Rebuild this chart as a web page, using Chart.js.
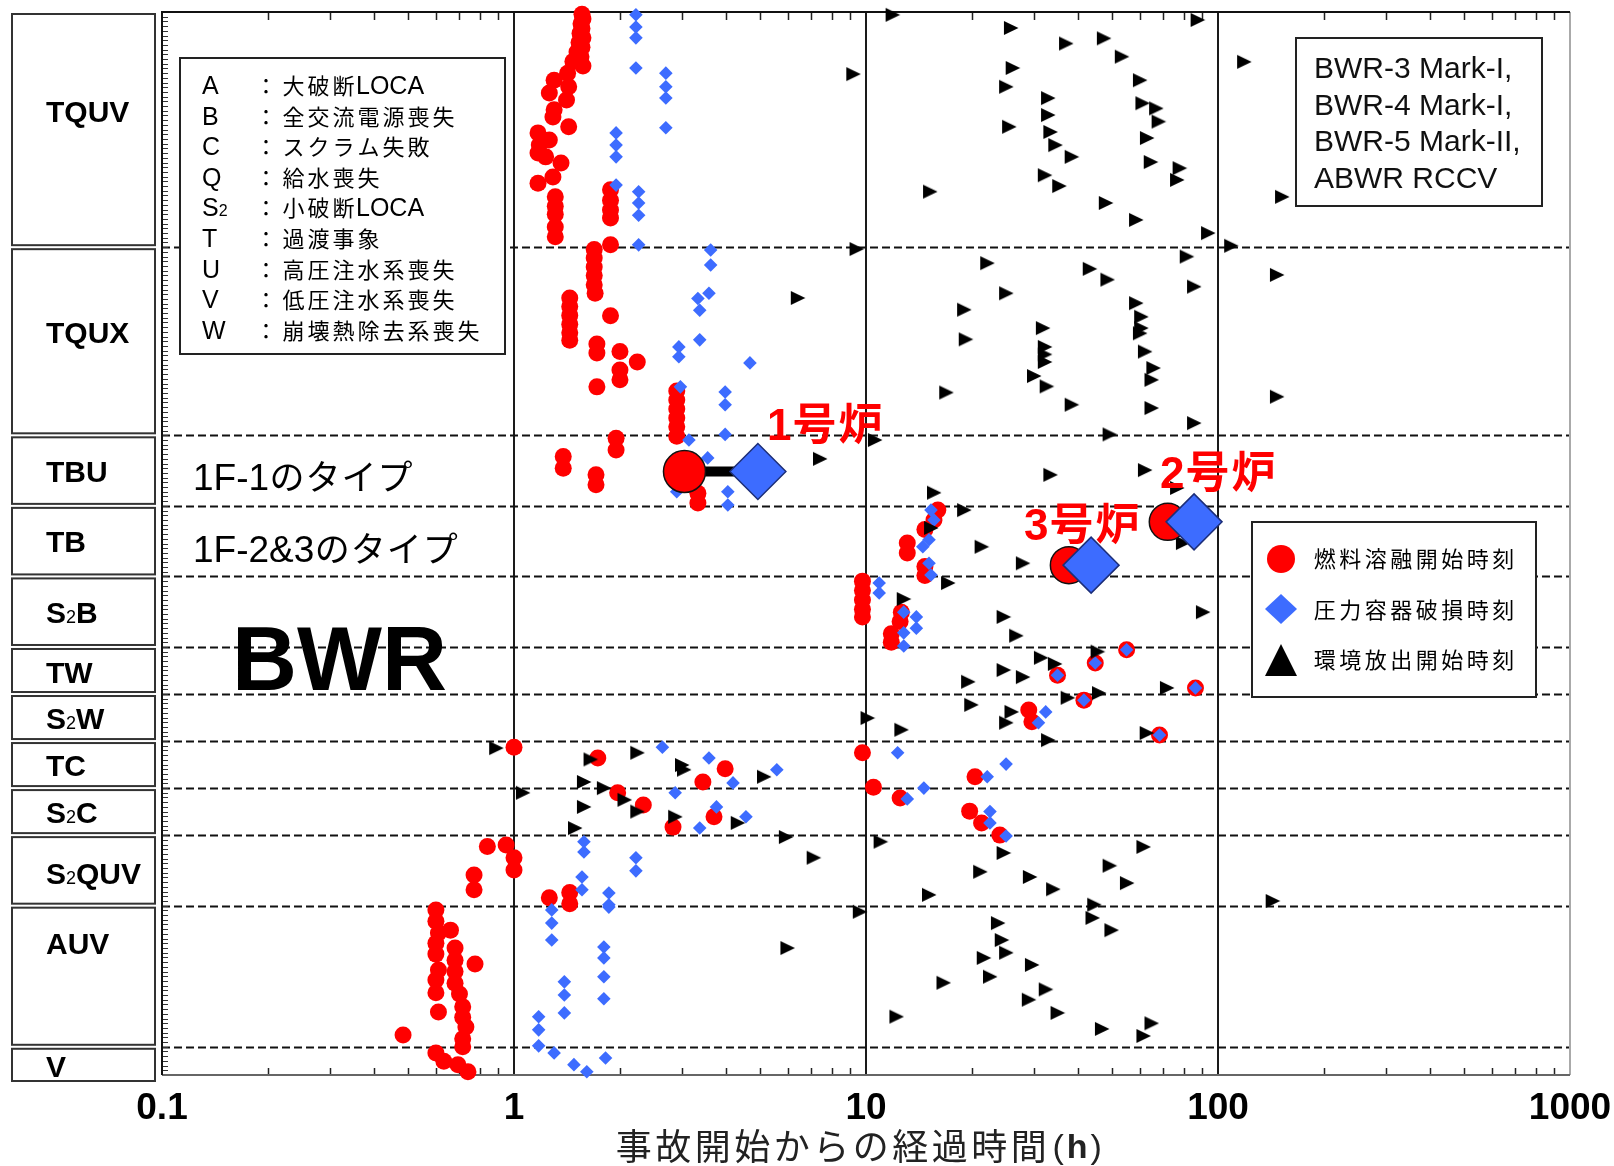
<!DOCTYPE html>
<html>
<head>
<meta charset="utf-8">
<script src="https://cdn.jsdelivr.net/npm/chart.js@4/dist/chart.umd.min.js"></script>
<style>
html, body { margin: 0; padding: 0; background: #fff; }
canvas { display: block; }
</style>
</head>
<body>
<canvas id="chart" width="1614" height="1166"></canvas>
<script>
// rows of the y axis, counted in cases from the top
const rowNames = ['TQUV', 'TQUX', 'TBU', 'TB', 'S2B', 'TW', 'S2W', 'TC', 'S2C', 'S2QUV', 'AUV', 'V'];
const rowEdges = [0, 50, 90, 105, 120, 135, 145, 155, 165, 175, 190, 220, 226];
const rowLabelAt = [21, 68, 97.5, 112.5, 127.5, 140.3, 150, 160, 170, 183, 198, 224];

const xMajor = [0.1, 1, 10, 100, 1000];
const xGridAt = [1, 10, 100];
const xTitle = '事故開始からの経過時間';
const xUnit = 'h';

const abbrevKeys = ['A', 'B', 'C', 'Q', 'S2', 'T', 'U', 'V', 'W'];
const abbrevText = ['大破断LOCA', '全交流電源喪失', 'スクラム失敗', '給水喪失', '小破断LOCA', '過渡事象', '高圧注水系喪失', '低圧注水系喪失', '崩壊熱除去系喪失'];
const plantTypes = ['BWR-3 Mark-I,', 'BWR-4 Mark-I,', 'BWR-5 Mark-II,', 'ABWR RCCV'];
const legendItems = ['燃料溶融開始時刻', '圧力容器破損時刻', '環境放出開始時刻'];

// [hours, case position]
const melt = [
  // TQUV
  [1.56,0.5],[1.57,1.5],[1.55,2.5],[1.56,3.5],[1.54,4.5],[1.57,5.5],[1.53,6.5],[1.56,7.5],[1.51,8.5],[1.55,9.5],[1.47,10.5],[1.57,11.5],
  [1.42,13],[1.30,14.5],[1.43,15.9],[1.26,17.2],[1.41,18.7],[1.30,20.8],[1.29,22.3],[1.43,24.4],[1.17,25.7],[1.26,27.2],[1.18,28.3],
  [1.17,30],[1.23,30.8],[1.36,32.1],[1.29,35.1],[1.17,36.4],[1.31,39.3],[1.31,41.3],[1.31,43],[1.31,45.7],[1.31,47.8],
  [1.88,37.8],[1.88,40],[1.88,42.1],[1.88,43.8],[1.88,49.5],
  // TQUX
  [1.69,50.5],[1.69,52.3],[1.69,54.2],[1.69,56],[1.69,58],[1.70,59.8],[1.44,60.8],[1.44,62.6],[1.44,64.5],[1.44,66.4],[1.44,68.2],[1.44,69.8],
  [1.88,64.6],[1.72,70.6],[1.72,72.5],[2.0,72.2],[2.0,76.1],[2.0,78.2],[2.24,74.4],[1.72,79.7],
  [2.9,80.6],[2.9,82.5],[2.9,84.4],[2.9,86.3],[2.9,88.2],[2.9,90.2],
  // TBU
  [1.38,94.5],[1.38,97],[1.71,98.4],[1.71,100.5],[1.95,90.6],[1.95,93.1],[3.33,102.3],[3.33,104.4],
  // TB
  [16.0,105.9],[15.6,108],[14.7,110],[13.1,112.9],[13.1,115],[14.7,117.9],[14.7,119.8],
  // S2B
  [9.77,121],[9.77,123],[9.77,125],[9.77,127],[9.77,128.6],[12.6,127.6],[12.5,129.6],[11.8,132.2],[11.8,134],
  // TW
  [55,135.6],[44.8,138.4],[35,141],[86.3,143.7],
  // S2W
  [41.6,146.3],[29.0,148.4],[29.6,150.9],[68.2,153.7],
  // TC
  [1.0,156.3],[1.73,158.6],[9.77,157.5],[3.98,160.9],[20.4,162.6],[3.44,163.7],
  // S2C
  [10.5,164.8],[1.97,166],[12.5,167.1],[2.33,168.6],[19.7,169.9],[3.70,171.1],[21.3,172.4],[2.83,173.3],[24.0,175],
  // S2QUV
  [0.95,177.1],[0.84,177.4],[1.0,179.8],[1.0,182.4],[0.77,183.5],[0.77,186.6],[1.44,187.2],[1.26,188.3],[1.44,189.6],
  // AUV
  [0.60,190.9],[0.60,193.3],[0.61,195.8],[0.60,198],[0.60,200.3],[0.61,203.7],[0.60,205.8],[0.60,208.5],[0.61,212.6],
  [0.66,195.2],[0.68,199],[0.68,201.6],[0.68,204],[0.68,206.5],[0.70,208.8],[0.775,202.4],
  [0.715,211.5],[0.715,213.7],[0.73,215.8],[0.715,218.3],[0.715,220],[0.484,217.5],
  // V
  [0.60,221.3],[0.632,223.1],[0.693,223.8],[0.74,225.3]
];

const rpv = [
  // TQUV
  [2.22,0.6],[2.22,3.2],[2.22,5.5],[2.22,11.9],[2.70,13],[2.70,15.9],[2.70,18.3],[2.70,24.6],[1.95,25.7],[1.95,28.3],[1.95,30.8],[1.95,36.8],
  [2.26,38.2],[2.26,40.6],[2.26,43.2],[2.26,49.5],
  // TQUX
  [3.62,50.6],[3.62,53.8],[3.58,59.8],[3.33,60.9],[3.37,63.4],[3.37,69.7],[2.94,71.2],[2.94,73.3],[4.68,74.6],[2.97,79.7],[3.98,80.8],[3.98,83.5],
  // TBU
  [3.98,89.8],[3.14,91],[3.55,94.8],[2.9,102],[4.05,102],[4.05,104.8],
  // TB
  [15.3,105.9],[15.6,108],[15.1,112.2],[14.5,113.7],[15.1,117.2],[15.3,119.7],
  // S2B
  [10.9,121.4],[10.9,123.5],[12.8,127.6],[13.9,128.6],[13.9,131],[12.8,132],[12.8,134.8],
  // TW
  [55,135.6],[44.8,138.4],[35,141],[86.3,143.7],
  // S2W
  [41.6,146.3],[32.4,148.8],[30.9,151.1],[68.2,153.7],
  // TC
  [2.64,156.3],[12.3,157.5],[3.58,158.6],[25.0,159.9],[5.58,161.1],[22.1,162.6],[4.19,163.9],
  // S2C
  [14.6,165],[2.87,166],[13.1,167.3],[3.76,169],[22.5,170],[4.56,171.1],[22.5,172.4],[3.37,173.5],[25,175.2],
  // S2QUV
  [1.58,176.4],[1.58,178.6],[2.22,179.8],[2.22,182.6],[1.56,183.9],[1.56,186.6],[1.86,187.3],[1.86,189.8],
  // AUV
  [1.86,190.3],[1.28,190.9],[1.28,193.7],[1.28,197.3],[1.80,198.8],[1.80,201.1],[1.80,205.1],[1.39,206.2],[1.39,209],[1.80,209.8],
  [1.39,212.8],[1.175,213.6],[1.175,216.4],[1.175,219.8],
  // V
  [1.30,221.3],[1.82,222.4],[1.48,223.8],[1.61,225.3]
];

const release = [
  // TQUV
  [11.9,0.6],[87.5,1.7],[25.8,3.4],[47.4,5.6],[37,6.7],[53.3,9.5],[118.6,10.6],[26.1,11.9],[9.2,13.2],[60,14.5],
  [25.0,15.9],[32.9,18.3],[61,19.4],[66.7,20.5],[32.9,21.9],[67.8,23.3],[25.5,24.4],[33.4,25.5],[62.8,26.8],[34.5,28.3],
  [38.4,30.8],[64.4,31.9],[77.8,33.2],[32.2,34.7],[76.5,35.7],[35.4,37],[15.2,38.2],[152,39.3],[48,40.6],[58.5,44.2],
  [93.7,47],[109,49.7],
  // TQUX
  [9.4,50.4],[81.5,52],[22.1,53.4],[43.2,54.6],[147,55.9],[48.5,56.9],[85.5,58.4],[25.0,59.8],[6.4,60.8],[58.5,61.9],
  [19.0,63.3],[60.5,64.8],[31.8,67.2],[60.5,67.2],[60,68.3],[19.2,69.6],[32.2,71.2],[62,72.2],[32.2,72.8],[32.2,74.4],
  [65.5,75.7],[30,77.4],[64.7,78.2],[32.6,79.6],[16.9,80.9],[147,81.8],[38.4,83.5],[64.7,84.2],[85.5,87.4],[49.2,89.8],
  // TBU
  [10.6,91],[7.4,95],[62,97.4],[33.4,98.4],[76.5,101.2],[15.6,102.2],
  // TB
  [19.0,105.9],[15.3,109.7],[79.5,112.9],[21.3,113.7],[27.9,117.2],
  // S2B
  [17.1,121.4],[12.8,124.8],[90.6,127.6],[24.6,128.6],[26.7,132.6],
  // TW
  [45.5,136],[31.4,137.3],[34.4,138.6],[24.6,139.9],[27.9,141.4],[19.5,142.4],[71.6,143.7],[45.9,144.8],
  // S2W
  [37.4,145.8],[19.9,147.3],[25.9,148.8],[10.1,150.1],[25.0,151.1],[12.6,152.6],[62.7,153.3],[32.9,154.8],
  // TC
  [0.89,156.5],[2.24,157.5],[1.65,158.9],[3.0,160.1],[3.04,161.1],[5.13,162.6],[1.58,163.7],
  // S2C
  [1.80,165],[1.06,166],[2.06,167.5],[1.58,169],[2.24,170],[2.87,171.1],[4.32,172.4],[1.49,173.5],
  // S2QUV
  [5.92,175.4],[11.0,176.4],[61.4,177.5],[24.6,178.8],[7.1,179.8],[49.2,181.5],[21.1,182.8],[29.2,183.9],[55.1,185.2],
  [34.0,186.5],[15.1,187.7],[143,189],[44.5,189.8],
  // AUV
  [9.6,191.3],[44.0,192.6],[23.7,193.7],[49.8,195.2],[24.3,197.3],[5.98,199],[25,200],[21.6,201.1],[29.6,202.6],
  [22.5,205.1],[16.6,206.4],[32.4,207.8],[29.0,210],[35,212.8],[12.2,213.6],[64.7,215],[46.8,216.2],[61.4,217.7]
];

// Fukushima Daiichi units 1-3
const unitNames = ['1号炉', '2号炉', '3号炉'];
const unitMelt = [[3.05,97.7],[72,108.4],[37.7,117.6]];
const unitRpv = [[4.93,97.7],[85.5,108.4],[43.6,117.6]];
const unitMeltSize = [21, 18.5, 18.5];

const RED = '#ff0000';
const BLUE = '#3d6cff';
const JP = '"Noto Sans CJK JP"';
const LAT = '"Liberation Sans", Arial';

function pts(a) {
  return a.map((p) => ({x: p[0], y: p[1]}));
}

// right pointing triangle marker
const tri = document.createElement('canvas');
tri.width = 16;
tri.height = 16;
const tc = tri.getContext('2d');
tc.fillStyle = '#000';
tc.beginPath();
tc.moveTo(1, 1);
tc.lineTo(15.5, 8);
tc.lineTo(1, 15);
tc.closePath();
tc.fill();

const xTicks = [];
[0.1, 1, 10, 100].forEach((d) => {
  for (let k = 1; k < 10; k++) xTicks.push(Number((d * k).toPrecision(3)));
});
xTicks.push(1000);

function isCJK(ch) {
  return /[\u3000-\u30ff\u4e00-\u9fff\uff01-\uff60]/.test(ch);
}

// CJK glyphs on a fixed cell, latin glyphs proportional; returns end x
function mixText(ctx, s, x, y, o) {
  ctx.fillStyle = o.color || '#000';
  ctx.textBaseline = 'alphabetic';
  ctx.textAlign = 'left';
  const wt = o.weight || 'normal';
  for (const ch of s) {
    if (isCJK(ch)) {
      ctx.font = wt + ' ' + o.cjk + 'px ' + JP;
      const w = ctx.measureText(ch).width;
      ctx.fillText(ch, x + (o.cell - w) / 2, y);
      x += o.cell;
    } else {
      ctx.font = wt + ' ' + o.lat + 'px ' + LAT;
      ctx.fillText(ch, x, y);
      x += ctx.measureText(ch).width;
    }
  }
  return x;
}

// "S2" written with a small 2
function subText(ctx, s, x, y, size, subSize, weight) {
  ctx.textBaseline = 'alphabetic';
  ctx.textAlign = 'left';
  ctx.fillStyle = '#000';
  const parts = s.startsWith('S2') ? [['S', size, weight], ['2', subSize, 'normal'], [s.slice(2), size, weight]] : [[s, size, weight]];
  parts.forEach(([t, sz, wt]) => {
    if (!t) return;
    ctx.font = wt + ' ' + sz + 'px ' + LAT;
    ctx.fillText(t, x, y);
    x += ctx.measureText(t).width;
  });
}

function box(ctx, x, y, w, h) {
  ctx.fillStyle = '#fff';
  ctx.fillRect(x, y, w, h);
  ctx.strokeStyle = '#222';
  ctx.lineWidth = 2;
  ctx.strokeRect(x, y, w, h);
}

const decor = {
  id: 'decor',
  beforeDatasetsDraw(chart) {
    const {ctx, chartArea: a, scales: {x, y}} = chart;
    ctx.save();

    ctx.strokeStyle = '#1a1a1a';
    ctx.lineWidth = 2;
    xGridAt.forEach((v) => {
      const px = Math.round(x.getPixelForValue(v));
      ctx.beginPath();
      ctx.moveTo(px, a.top);
      ctx.lineTo(px, a.bottom);
      ctx.stroke();
    });

    ctx.setLineDash([8, 4]);
    ctx.lineWidth = 1.8;
    ctx.strokeStyle = '#111';
    rowEdges.slice(1, -1).forEach((v) => {
      const py = Math.round(y.getPixelForValue(v)) + 0.5;
      ctx.beginPath();
      ctx.moveTo(a.left, py);
      ctx.lineTo(a.right, py);
      ctx.stroke();
    });
    ctx.setLineDash([]);

    // minor ticks on top and bottom
    ctx.lineWidth = 1.5;
    ctx.strokeStyle = '#222';
    x.ticks.forEach((t) => {
      if (xMajor.includes(t.value)) return;
      const px = Math.round(x.getPixelForValue(t.value)) + 0.5;
      ctx.beginPath();
      ctx.moveTo(px, a.top);
      ctx.lineTo(px, a.top + 8);
      ctx.moveTo(px, a.bottom);
      ctx.lineTo(px, a.bottom - 7);
      ctx.stroke();
    });

    // one tick per case on the left
    ctx.lineWidth = 1;
    ctx.strokeStyle = '#333';
    for (let i = 0; i <= y.max; i++) {
      const py = Math.round(y.getPixelForValue(i)) + 0.5;
      ctx.beginPath();
      ctx.moveTo(a.left, py);
      ctx.lineTo(a.left + 6, py);
      ctx.stroke();
    }

    ctx.lineWidth = 2;
    ctx.strokeStyle = '#aaa';
    ctx.beginPath();
    ctx.moveTo(a.right, a.top);
    ctx.lineTo(a.right, a.bottom);
    ctx.stroke();
    ctx.strokeStyle = '#666';
    ctx.beginPath();
    ctx.moveTo(a.left, a.bottom);
    ctx.lineTo(a.right, a.bottom);
    ctx.stroke();
    ctx.strokeStyle = '#111';
    ctx.beginPath();
    ctx.moveTo(a.right, a.top);
    ctx.lineTo(a.left, a.top);
    ctx.lineTo(a.left, a.bottom);
    ctx.stroke();
    ctx.restore();
  },
  afterDatasetsDraw(chart) {
    const {ctx, scales: {y}} = chart;
    ctx.save();

    // row name boxes
    rowNames.forEach((name, i) => {
      const top = y.getPixelForValue(rowEdges[i]) + 2;
      let bot = y.getPixelForValue(rowEdges[i + 1]) - 2;
      if (i === rowNames.length - 1) bot += 8;
      ctx.strokeStyle = '#333';
      ctx.lineWidth = 2;
      ctx.strokeRect(12, top, 143, bot - top);
      subText(ctx, name, 46, y.getPixelForValue(rowLabelAt[i]) + 11, 30, 18, 'bold');
    });

    // abbreviation box
    box(ctx, 180, 58, 325, 296);
    abbrevKeys.forEach((k, i) => {
      const by = 94 + i * 30.6;
      subText(ctx, k, 202, by, 25, 16, 'normal');
      ctx.font = '22px ' + JP;
      ctx.textAlign = 'center';
      ctx.fillText('：', 266, by);
      mixText(ctx, abbrevText[i], 281, by, {lat: 25, cjk: 22, cell: 25});
    });

    // plant types box
    box(ctx, 1296, 38, 246, 168);
    ctx.fillStyle = '#111';
    ctx.font = '30px ' + LAT;
    ctx.textAlign = 'left';
    ctx.textBaseline = 'alphabetic';
    plantTypes.forEach((t, i) => ctx.fillText(t, 1314, 78 + i * 36.7));

    // marker legend
    box(ctx, 1252, 522, 284, 175);
    ctx.fillStyle = RED;
    ctx.beginPath();
    ctx.arc(1281, 559, 14, 0, Math.PI * 2);
    ctx.fill();
    ctx.fillStyle = BLUE;
    ctx.beginPath();
    ctx.moveTo(1265, 609);
    ctx.lineTo(1281, 594);
    ctx.lineTo(1297, 609);
    ctx.lineTo(1281, 624);
    ctx.closePath();
    ctx.fill();
    ctx.fillStyle = '#000';
    ctx.beginPath();
    ctx.moveTo(1281, 644);
    ctx.lineTo(1297, 676);
    ctx.lineTo(1265, 676);
    ctx.closePath();
    ctx.fill();
    legendItems.forEach((t, i) => mixText(ctx, t, 1312, 567 + i * 50.5, {lat: 22, cjk: 22, cell: 25.5}));

    // notes inside the plot
    mixText(ctx, '1F-1のタイプ', 193, 490, {lat: 37, cjk: 35, cell: 36});
    mixText(ctx, '1F-2&3のタイプ', 193, 562, {lat: 37, cjk: 35, cell: 36});
    ctx.fillStyle = '#000';
    ctx.font = 'bold 90px ' + LAT;
    ctx.textAlign = 'left';
    ctx.fillText('BWR', 232, 690);

    const unitAt = [[767, 440], [1160, 488], [1024, 540]];
    unitNames.forEach((n, i) => mixText(ctx, n, unitAt[i][0], unitAt[i][1], {lat: 44, cjk: 44, cell: 46, weight: 'bold', color: RED}));

    // x axis title
    let tx = mixText(ctx, xTitle, 614, 1160, {lat: 34, cjk: 36, cell: 39.5, color: '#222'});
    ctx.font = '34px ' + LAT;
    ctx.fillText('(', tx + 4, 1158);
    tx += 4 + ctx.measureText('(').width + 3;
    ctx.font = 'bold 34px ' + LAT;
    ctx.fillText(xUnit, tx, 1158);
    tx += ctx.measureText(xUnit).width + 3;
    ctx.font = '34px ' + LAT;
    ctx.fillText(')', tx, 1158);

    ctx.restore();
  }
};

new Chart(document.getElementById('chart'), {
  type: 'scatter',
  data: {
    datasets: [
      {
        label: '燃料溶融開始時刻',
        data: pts(melt),
        pointStyle: 'circle',
        pointRadius: 8.5,
        backgroundColor: RED,
        borderWidth: 0,
        clip: false,
        order: 6
      },
      {
        label: '圧力容器破損時刻',
        data: pts(rpv),
        pointStyle: 'rectRot',
        pointRadius: 6.8,
        backgroundColor: BLUE,
        borderWidth: 0,
        clip: false,
        order: 5
      },
      {
        label: '環境放出開始時刻',
        data: pts(release),
        pointStyle: tri,
        pointRadius: 8,
        clip: false,
        order: 4
      },
      {
        label: 'link',
        data: pts([unitMelt[0], unitRpv[0]]),
        showLine: true,
        borderColor: '#000',
        borderWidth: 10,
        pointRadius: 0,
        order: 3
      },
      {
        label: 'unit melt',
        data: pts(unitMelt),
        pointStyle: 'circle',
        pointRadius: unitMeltSize,
        backgroundColor: RED,
        borderColor: '#111',
        borderWidth: 1.5,
        order: 2
      },
      {
        label: 'unit rpv',
        data: pts(unitRpv),
        pointStyle: 'rectRot',
        pointRadius: 28,
        backgroundColor: BLUE,
        borderColor: '#1c2e78',
        borderWidth: 1.5,
        order: 1
      }
    ]
  },
  options: {
    responsive: false,
    animation: false,
    devicePixelRatio: 1,
    events: [],
    layout: {autoPadding: false, padding: {left: 162, top: 12, right: 44, bottom: 0}},
    plugins: {
      legend: {display: false},
      tooltip: {enabled: false}
    },
    scales: {
      x: {
        type: 'logarithmic',
        min: 0.1,
        max: 1000,
        afterBuildTicks: (s) => { s.ticks = xTicks.map((v) => ({value: v})); },
        afterFit: (s) => { s.height = 91; s.paddingLeft = 0; s.paddingRight = 0; },
        grid: {display: false, drawTicks: false},
        border: {display: false},
        ticks: {
          autoSkip: false,
          maxRotation: 0,
          padding: 12,
          color: '#000',
          font: {family: 'Liberation Sans', size: 37, weight: 'bold'},
          callback: (v) => xMajor.includes(v) ? String(v) : ''
        }
      },
      y: {
        type: 'linear',
        reverse: true,
        min: 0,
        max: 226,
        display: false,
        afterFit: (s) => { s.paddingTop = 0; s.paddingBottom = 0; }
      }
    }
  },
  plugins: [decor]
});
</script>
</body>
</html>
